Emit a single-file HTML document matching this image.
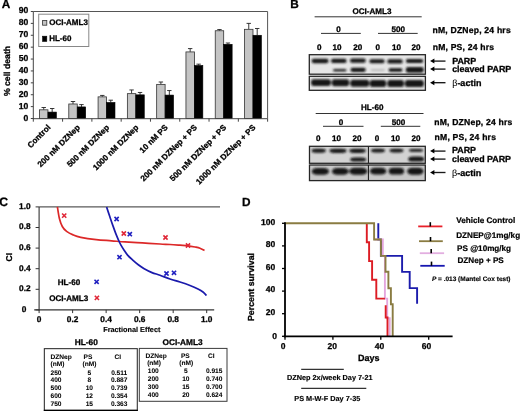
<!DOCTYPE html>
<html><head><meta charset="utf-8"><style>
html,body{margin:0;padding:0;background:#fff;overflow:hidden;}
svg{display:block;will-change:transform;}
text{font-family:"Liberation Sans", sans-serif;stroke:#000;text-rendering:geometricPrecision;}
</style></head><body>
<svg width="520" height="411" viewBox="0 0 520 411" font-family='"Liberation Sans", sans-serif'>
<defs><filter id="bl" x="-10%" y="-50%" width="120%" height="200%"><feGaussianBlur stdDeviation="0.8"/></filter></defs>
<rect width="520" height="411" fill="#fff"/>
<text x="1.80" y="7.90" font-size="11.8" text-anchor="start" font-weight="bold" fill="#000"  style="stroke-width:0.28px;">A</text>
<line x1="33.30" y1="11.50" x2="267.60" y2="11.50" stroke="#555" stroke-width="1" />
<line x1="267.60" y1="11.50" x2="267.60" y2="118.50" stroke="#555" stroke-width="1" />
<line x1="43.73" y1="107.50" x2="43.73" y2="109.82" stroke="#222" stroke-width="0.9" />
<line x1="41.52" y1="107.50" x2="45.93" y2="107.50" stroke="#222" stroke-width="0.9" />
<line x1="52.17" y1="108.51" x2="52.17" y2="112.08" stroke="#222" stroke-width="0.9" />
<line x1="49.97" y1="108.51" x2="54.38" y2="108.51" stroke="#222" stroke-width="0.9" />
<rect x="39.50" y="109.82" width="8.45" height="8.68" fill="#c4c4c4" stroke="#333" stroke-width="0.8" />
<rect x="47.95" y="112.08" width="8.45" height="6.42" fill="#000" stroke="#000" stroke-width="0.6" />
<line x1="73.01" y1="101.50" x2="73.01" y2="103.99" stroke="#222" stroke-width="0.9" />
<line x1="70.81" y1="101.50" x2="75.21" y2="101.50" stroke="#222" stroke-width="0.9" />
<line x1="81.46" y1="104.59" x2="81.46" y2="106.91" stroke="#222" stroke-width="0.9" />
<line x1="79.26" y1="104.59" x2="83.66" y2="104.59" stroke="#222" stroke-width="0.9" />
<rect x="68.79" y="103.99" width="8.45" height="14.51" fill="#c4c4c4" stroke="#333" stroke-width="0.8" />
<rect x="77.24" y="106.91" width="8.45" height="11.59" fill="#000" stroke="#000" stroke-width="0.6" />
<line x1="102.30" y1="95.43" x2="102.30" y2="96.86" stroke="#222" stroke-width="0.9" />
<line x1="100.10" y1="95.43" x2="104.50" y2="95.43" stroke="#222" stroke-width="0.9" />
<line x1="110.75" y1="100.19" x2="110.75" y2="102.45" stroke="#222" stroke-width="0.9" />
<line x1="108.55" y1="100.19" x2="112.95" y2="100.19" stroke="#222" stroke-width="0.9" />
<rect x="98.08" y="96.86" width="8.45" height="21.64" fill="#c4c4c4" stroke="#333" stroke-width="0.8" />
<rect x="106.53" y="102.45" width="8.45" height="16.05" fill="#000" stroke="#000" stroke-width="0.6" />
<line x1="131.59" y1="89.96" x2="131.59" y2="93.65" stroke="#222" stroke-width="0.9" />
<line x1="129.40" y1="89.96" x2="133.79" y2="89.96" stroke="#222" stroke-width="0.9" />
<line x1="140.04" y1="92.46" x2="140.04" y2="94.84" stroke="#222" stroke-width="0.9" />
<line x1="137.84" y1="92.46" x2="142.24" y2="92.46" stroke="#222" stroke-width="0.9" />
<rect x="127.37" y="93.65" width="8.45" height="24.85" fill="#c4c4c4" stroke="#333" stroke-width="0.8" />
<rect x="135.82" y="94.84" width="8.45" height="23.66" fill="#000" stroke="#000" stroke-width="0.6" />
<line x1="160.88" y1="82.00" x2="160.88" y2="84.38" stroke="#222" stroke-width="0.9" />
<line x1="158.68" y1="82.00" x2="163.08" y2="82.00" stroke="#222" stroke-width="0.9" />
<line x1="169.33" y1="90.56" x2="169.33" y2="95.08" stroke="#222" stroke-width="0.9" />
<line x1="167.13" y1="90.56" x2="171.53" y2="90.56" stroke="#222" stroke-width="0.9" />
<rect x="156.66" y="84.38" width="8.45" height="34.12" fill="#c4c4c4" stroke="#333" stroke-width="0.8" />
<rect x="165.11" y="95.08" width="8.45" height="23.42" fill="#000" stroke="#000" stroke-width="0.6" />
<line x1="190.17" y1="48.59" x2="190.17" y2="51.92" stroke="#222" stroke-width="0.9" />
<line x1="187.97" y1="48.59" x2="192.37" y2="48.59" stroke="#222" stroke-width="0.9" />
<line x1="198.62" y1="64.16" x2="198.62" y2="65.47" stroke="#222" stroke-width="0.9" />
<line x1="196.43" y1="64.16" x2="200.82" y2="64.16" stroke="#222" stroke-width="0.9" />
<rect x="185.95" y="51.92" width="8.45" height="66.58" fill="#c4c4c4" stroke="#333" stroke-width="0.8" />
<rect x="194.40" y="65.47" width="8.45" height="53.03" fill="#000" stroke="#000" stroke-width="0.6" />
<line x1="219.47" y1="29.56" x2="219.47" y2="30.75" stroke="#222" stroke-width="0.9" />
<line x1="217.27" y1="29.56" x2="221.66" y2="29.56" stroke="#222" stroke-width="0.9" />
<line x1="227.92" y1="43.00" x2="227.92" y2="44.31" stroke="#222" stroke-width="0.9" />
<line x1="225.72" y1="43.00" x2="230.12" y2="43.00" stroke="#222" stroke-width="0.9" />
<rect x="215.24" y="30.75" width="8.45" height="87.75" fill="#c4c4c4" stroke="#333" stroke-width="0.8" />
<rect x="223.69" y="44.31" width="8.45" height="74.19" fill="#000" stroke="#000" stroke-width="0.6" />
<line x1="248.75" y1="23.38" x2="248.75" y2="29.32" stroke="#222" stroke-width="0.9" />
<line x1="246.55" y1="23.38" x2="250.95" y2="23.38" stroke="#222" stroke-width="0.9" />
<line x1="257.20" y1="28.49" x2="257.20" y2="35.27" stroke="#222" stroke-width="0.9" />
<line x1="255.00" y1="28.49" x2="259.40" y2="28.49" stroke="#222" stroke-width="0.9" />
<rect x="244.53" y="29.32" width="8.45" height="89.18" fill="#c4c4c4" stroke="#333" stroke-width="0.8" />
<rect x="252.98" y="35.27" width="8.45" height="83.23" fill="#000" stroke="#000" stroke-width="0.6" />
<line x1="33.30" y1="11.50" x2="33.30" y2="119.00" stroke="#444" stroke-width="1" />
<line x1="32.80" y1="118.70" x2="267.60" y2="118.70" stroke="#444" stroke-width="1" />
<line x1="30.80" y1="118.50" x2="33.30" y2="118.50" stroke="#444" stroke-width="1" />
<text x="28.20" y="120.50" font-size="8.6" text-anchor="end" font-weight="bold" fill="#000"  style="stroke-width:0.28px;">0</text>
<line x1="30.80" y1="106.61" x2="33.30" y2="106.61" stroke="#444" stroke-width="1" />
<text x="28.20" y="108.61" font-size="8.6" text-anchor="end" font-weight="bold" fill="#000"  style="stroke-width:0.28px;">10</text>
<line x1="30.80" y1="94.72" x2="33.30" y2="94.72" stroke="#444" stroke-width="1" />
<text x="28.20" y="96.72" font-size="8.6" text-anchor="end" font-weight="bold" fill="#000"  style="stroke-width:0.28px;">20</text>
<line x1="30.80" y1="82.83" x2="33.30" y2="82.83" stroke="#444" stroke-width="1" />
<text x="28.20" y="84.83" font-size="8.6" text-anchor="end" font-weight="bold" fill="#000"  style="stroke-width:0.28px;">30</text>
<line x1="30.80" y1="70.94" x2="33.30" y2="70.94" stroke="#444" stroke-width="1" />
<text x="28.20" y="72.94" font-size="8.6" text-anchor="end" font-weight="bold" fill="#000"  style="stroke-width:0.28px;">40</text>
<line x1="30.80" y1="59.05" x2="33.30" y2="59.05" stroke="#444" stroke-width="1" />
<text x="28.20" y="61.05" font-size="8.6" text-anchor="end" font-weight="bold" fill="#000"  style="stroke-width:0.28px;">50</text>
<line x1="30.80" y1="47.16" x2="33.30" y2="47.16" stroke="#444" stroke-width="1" />
<text x="28.20" y="49.16" font-size="8.6" text-anchor="end" font-weight="bold" fill="#000"  style="stroke-width:0.28px;">60</text>
<line x1="30.80" y1="35.27" x2="33.30" y2="35.27" stroke="#444" stroke-width="1" />
<text x="28.20" y="37.27" font-size="8.6" text-anchor="end" font-weight="bold" fill="#000"  style="stroke-width:0.28px;">70</text>
<line x1="30.80" y1="23.38" x2="33.30" y2="23.38" stroke="#444" stroke-width="1" />
<text x="28.20" y="25.38" font-size="8.6" text-anchor="end" font-weight="bold" fill="#000"  style="stroke-width:0.28px;">80</text>
<line x1="30.80" y1="11.49" x2="33.30" y2="11.49" stroke="#444" stroke-width="1" />
<text x="28.20" y="13.49" font-size="8.6" text-anchor="end" font-weight="bold" fill="#000"  style="stroke-width:0.28px;">90</text>
<line x1="33.30" y1="118.50" x2="33.30" y2="121.70" stroke="#444" stroke-width="1" />
<line x1="62.59" y1="118.50" x2="62.59" y2="121.70" stroke="#444" stroke-width="1" />
<line x1="91.88" y1="118.50" x2="91.88" y2="121.70" stroke="#444" stroke-width="1" />
<line x1="121.17" y1="118.50" x2="121.17" y2="121.70" stroke="#444" stroke-width="1" />
<line x1="150.46" y1="118.50" x2="150.46" y2="121.70" stroke="#444" stroke-width="1" />
<line x1="179.75" y1="118.50" x2="179.75" y2="121.70" stroke="#444" stroke-width="1" />
<line x1="209.04" y1="118.50" x2="209.04" y2="121.70" stroke="#444" stroke-width="1" />
<line x1="238.33" y1="118.50" x2="238.33" y2="121.70" stroke="#444" stroke-width="1" />
<line x1="267.62" y1="118.50" x2="267.62" y2="121.70" stroke="#444" stroke-width="1" />
<text x="10.20" y="71.00" font-size="8.7" text-anchor="middle" font-weight="bold" fill="#000" transform="rotate(-90 10.2 71)" style="stroke-width:0.28px;">% cell death</text>
<rect x="38.70" y="14.20" width="50.10" height="32.30" fill="#fff" stroke="#888" stroke-width="1" />
<rect x="42.60" y="20.40" width="4.20" height="4.80" fill="#c4c4c4" stroke="#333" stroke-width="0.8" />
<rect x="42.60" y="36.20" width="4.20" height="5.20" fill="#000" stroke="#000" stroke-width="0.6" />
<text x="49.20" y="24.90" font-size="8.0" text-anchor="start" font-weight="bold" fill="#000"  style="stroke-width:0.28px;">OCI-AML3</text>
<text x="49.20" y="41.00" font-size="8.0" text-anchor="start" font-weight="bold" fill="#000"  style="stroke-width:0.28px;">HL-60</text>
<text x="51.14" y="128.00" font-size="8.15" text-anchor="end" font-weight="bold" fill="#000" transform="rotate(-45 51.14 128.00)" style="stroke-width:0.28px;">Control</text>
<text x="80.44" y="128.00" font-size="8.15" text-anchor="end" font-weight="bold" fill="#000" transform="rotate(-45 80.44 128.00)" style="stroke-width:0.28px;">200 nM DZNep</text>
<text x="109.72" y="128.00" font-size="8.15" text-anchor="end" font-weight="bold" fill="#000" transform="rotate(-45 109.72 128.00)" style="stroke-width:0.28px;">500 nM DZNep</text>
<text x="139.01" y="128.00" font-size="8.15" text-anchor="end" font-weight="bold" fill="#000" transform="rotate(-45 139.01 128.00)" style="stroke-width:0.28px;">1000 nM DZNep</text>
<text x="168.31" y="128.00" font-size="8.15" text-anchor="end" font-weight="bold" fill="#000" transform="rotate(-45 168.31 128.00)" style="stroke-width:0.28px;">10 nM PS</text>
<text x="197.59" y="128.00" font-size="8.15" text-anchor="end" font-weight="bold" fill="#000" transform="rotate(-45 197.59 128.00)" style="stroke-width:0.28px;">200 nM DZNep + PS</text>
<text x="226.88" y="128.00" font-size="8.15" text-anchor="end" font-weight="bold" fill="#000" transform="rotate(-45 226.88 128.00)" style="stroke-width:0.28px;">500 nM DZNep + PS</text>
<text x="256.17" y="128.00" font-size="8.15" text-anchor="end" font-weight="bold" fill="#000" transform="rotate(-45 256.17 128.00)" style="stroke-width:0.28px;">1000 nM DZNep + PS</text>
<text x="290.30" y="8.00" font-size="11.8" text-anchor="start" font-weight="bold" fill="#000"  style="stroke-width:0.28px;">B</text>
<text x="372.00" y="13.80" font-size="8.1" text-anchor="middle" font-weight="bold" fill="#000"  style="stroke-width:0.28px;">OCI-AML3</text>
<line x1="314.60" y1="16.80" x2="421.70" y2="16.80" stroke="#333" stroke-width="1" />
<text x="338.60" y="31.70" font-size="8.1" text-anchor="middle" font-weight="bold" fill="#000"  style="stroke-width:0.28px;">0</text>
<text x="398.20" y="31.70" font-size="8.1" text-anchor="middle" font-weight="bold" fill="#000"  style="stroke-width:0.28px;">500</text>
<line x1="321.00" y1="33.40" x2="360.80" y2="33.40" stroke="#333" stroke-width="1" />
<line x1="378.00" y1="33.40" x2="417.70" y2="33.40" stroke="#333" stroke-width="1" />
<text x="319.20" y="50.30" font-size="8.1" text-anchor="middle" font-weight="bold" fill="#000"  style="stroke-width:0.28px;">0</text>
<text x="337.00" y="50.30" font-size="8.1" text-anchor="middle" font-weight="bold" fill="#000"  style="stroke-width:0.28px;">10</text>
<text x="357.70" y="50.30" font-size="8.1" text-anchor="middle" font-weight="bold" fill="#000"  style="stroke-width:0.28px;">20</text>
<text x="377.70" y="50.30" font-size="8.1" text-anchor="middle" font-weight="bold" fill="#000"  style="stroke-width:0.28px;">0</text>
<text x="396.50" y="50.30" font-size="8.1" text-anchor="middle" font-weight="bold" fill="#000"  style="stroke-width:0.28px;">10</text>
<text x="416.00" y="50.30" font-size="8.1" text-anchor="middle" font-weight="bold" fill="#000"  style="stroke-width:0.28px;">20</text>
<text x="432.50" y="32.80" font-size="8.6" text-anchor="start" font-weight="bold" fill="#000"  style="stroke-width:0.28px;letter-spacing:0.2px">nM, DZNep, 24 hrs</text>
<text x="432.70" y="49.60" font-size="8.6" text-anchor="start" font-weight="bold" fill="#000"  style="stroke-width:0.28px;letter-spacing:0.2px">nM, PS, 24 hrs</text>
<rect x="309.30" y="54.70" width="116.10" height="19.50" fill="#e6e6e6" stroke="none" stroke-width="0" />
<g filter="url(#bl)">
<rect x="311.60" y="58.85" width="17.00" height="4.30" rx="2.21" ry="2.15" fill="#141414"/>
<rect x="331.00" y="58.85" width="15.60" height="4.10" rx="2.03" ry="2.05" fill="#141414"/>
<rect x="350.00" y="58.55" width="15.80" height="4.30" rx="2.05" ry="2.15" fill="#141414"/>
<rect x="369.40" y="59.30" width="15.20" height="4.00" rx="1.98" ry="2.00" fill="#141414"/>
<rect x="387.30" y="59.20" width="15.40" height="4.40" rx="2.00" ry="2.20" fill="#141414"/>
<rect x="405.80" y="58.95" width="17.50" height="4.10" rx="2.27" ry="2.05" fill="#141414"/>
<rect x="333.00" y="68.90" width="13.40" height="2.60" rx="1.74" ry="1.30" fill="#222"/>
<rect x="350.50" y="67.70" width="15.30" height="4.20" rx="1.99" ry="2.10" fill="#141414"/>
<rect x="370.50" y="69.00" width="14.50" height="2.20" rx="1.89" ry="1.10" fill="#bdbdbd"/>
<rect x="388.50" y="68.20" width="14.00" height="3.60" rx="1.82" ry="1.80" fill="#141414"/>
<rect x="405.80" y="66.90" width="18.00" height="5.80" rx="2.34" ry="2.90" fill="#141414"/>
</g>
<rect x="309.30" y="54.70" width="116.10" height="19.50" fill="none" stroke="#262626" stroke-width="1.3" />
<rect x="309.30" y="76.30" width="116.10" height="14.00" fill="#e6e6e6" stroke="none" stroke-width="0" />
<g filter="url(#bl)">
<rect x="311.00" y="79.20" width="20.00" height="6.80" rx="2.60" ry="3.40" fill="#141414"/>
<rect x="331.80" y="79.35" width="17.40" height="6.90" rx="2.26" ry="3.45" fill="#141414"/>
<rect x="350.20" y="79.80" width="19.10" height="7.00" rx="2.48" ry="3.50" fill="#141414"/>
<rect x="369.80" y="80.00" width="16.40" height="7.00" rx="2.13" ry="3.50" fill="#141414"/>
<rect x="387.30" y="79.95" width="16.70" height="7.10" rx="2.17" ry="3.55" fill="#141414"/>
<rect x="404.80" y="79.90" width="19.10" height="7.20" rx="2.48" ry="3.60" fill="#141414"/>
</g>
<rect x="309.30" y="76.30" width="116.10" height="14.00" fill="none" stroke="#262626" stroke-width="1.3" />
<line x1="433.10" y1="61.10" x2="445.50" y2="61.10" stroke="#1a1a1a" stroke-width="1.35" />
<path d="M430.10,61.10 L434.40,58.60 L434.40,63.60 Z" fill="#000"/>
<line x1="433.10" y1="69.10" x2="445.50" y2="69.10" stroke="#1a1a1a" stroke-width="1.35" />
<path d="M430.10,69.10 L434.40,66.60 L434.40,71.60 Z" fill="#000"/>
<line x1="433.10" y1="82.70" x2="445.50" y2="82.70" stroke="#1a1a1a" stroke-width="1.35" />
<path d="M430.10,82.70 L434.40,80.20 L434.40,85.20 Z" fill="#000"/>
<text x="452.20" y="64.00" font-size="8.9" text-anchor="start" font-weight="bold" fill="#000"  style="stroke-width:0.28px;">PARP</text>
<text x="452.20" y="71.50" font-size="8.9" text-anchor="start" font-weight="bold" fill="#000"  style="stroke-width:0.28px;">cleaved PARP</text>
<text x="452.20" y="85.90" font-size="9.0" text-anchor="start" font-weight="bold" fill="#000"  style="stroke-width:0.28px;"><tspan font-weight="normal" style="stroke-width:0.05px">&#946;</tspan>-actin</text>
<text x="372.20" y="110.00" font-size="8.1" text-anchor="middle" font-weight="bold" fill="#000"  style="stroke-width:0.28px;">HL-60</text>
<line x1="315.70" y1="113.50" x2="423.50" y2="113.50" stroke="#333" stroke-width="1" />
<text x="341.00" y="124.50" font-size="8.1" text-anchor="middle" font-weight="bold" fill="#000"  style="stroke-width:0.28px;">0</text>
<text x="398.50" y="124.50" font-size="8.1" text-anchor="middle" font-weight="bold" fill="#000"  style="stroke-width:0.28px;">500</text>
<line x1="323.00" y1="126.30" x2="363.50" y2="126.30" stroke="#333" stroke-width="1" />
<line x1="380.80" y1="126.30" x2="420.30" y2="126.30" stroke="#333" stroke-width="1" />
<text x="318.20" y="140.70" font-size="8.1" text-anchor="middle" font-weight="bold" fill="#000"  style="stroke-width:0.28px;">0</text>
<text x="336.40" y="140.70" font-size="8.1" text-anchor="middle" font-weight="bold" fill="#000"  style="stroke-width:0.28px;">10</text>
<text x="356.90" y="140.70" font-size="8.1" text-anchor="middle" font-weight="bold" fill="#000"  style="stroke-width:0.28px;">20</text>
<text x="377.10" y="140.70" font-size="8.1" text-anchor="middle" font-weight="bold" fill="#000"  style="stroke-width:0.28px;">0</text>
<text x="395.50" y="140.70" font-size="8.1" text-anchor="middle" font-weight="bold" fill="#000"  style="stroke-width:0.28px;">10</text>
<text x="416.00" y="140.70" font-size="8.1" text-anchor="middle" font-weight="bold" fill="#000"  style="stroke-width:0.28px;">20</text>
<text x="434.20" y="125.40" font-size="8.6" text-anchor="start" font-weight="bold" fill="#000"  style="stroke-width:0.28px;letter-spacing:0.2px">nM, DZNep, 24 hrs</text>
<text x="434.60" y="140.40" font-size="8.6" text-anchor="start" font-weight="bold" fill="#000"  style="stroke-width:0.28px;letter-spacing:0.2px">nM, PS, 24 hrs</text>
<rect x="309.50" y="146.30" width="115.80" height="17.00" fill="#d2d2d2" stroke="none" stroke-width="0" />
<g filter="url(#bl)">
<rect x="311.60" y="148.85" width="14.20" height="3.90" rx="4.26" ry="1.95" fill="#141414"/>
<rect x="329.40" y="148.70" width="17.20" height="4.20" rx="5.16" ry="2.10" fill="#141414"/>
<rect x="349.30" y="148.70" width="16.50" height="4.20" rx="4.95" ry="2.10" fill="#141414"/>
<rect x="371.00" y="148.70" width="14.00" height="3.80" rx="4.20" ry="1.90" fill="#141414"/>
<rect x="389.60" y="148.70" width="13.90" height="3.80" rx="4.17" ry="1.90" fill="#141414"/>
<rect x="409.00" y="149.05" width="14.00" height="2.70" rx="4.20" ry="1.35" fill="#111"/>
<rect x="350.20" y="157.45" width="16.00" height="4.10" rx="4.80" ry="2.05" fill="#141414"/>
<rect x="408.20" y="156.40" width="16.00" height="5.20" rx="4.80" ry="2.60" fill="#141414"/>
</g>
<line x1="368.40" y1="146.30" x2="368.40" y2="163.30" stroke="#111" stroke-width="1" />
<rect x="309.50" y="146.30" width="115.80" height="17.00" fill="none" stroke="#262626" stroke-width="1.3" />
<rect x="309.50" y="165.00" width="115.80" height="15.60" fill="#c8c8c8" stroke="none" stroke-width="0" />
<g filter="url(#bl)">
<rect x="311.80" y="168.05" width="17.20" height="6.70" rx="5.16" ry="3.35" fill="#141414"/>
<rect x="332.00" y="167.95" width="16.60" height="6.90" rx="4.98" ry="3.45" fill="#141414"/>
<rect x="349.20" y="167.70" width="18.00" height="7.00" rx="5.40" ry="3.50" fill="#141414"/>
<rect x="370.00" y="167.80" width="16.30" height="6.80" rx="4.89" ry="3.40" fill="#141414"/>
<rect x="388.70" y="167.80" width="15.40" height="6.80" rx="4.62" ry="3.40" fill="#141414"/>
<rect x="407.20" y="167.80" width="16.30" height="7.00" rx="4.89" ry="3.50" fill="#141414"/>
</g>
<line x1="368.40" y1="165.00" x2="368.40" y2="180.60" stroke="#111" stroke-width="1" />
<rect x="309.50" y="165.00" width="115.80" height="15.60" fill="none" stroke="#262626" stroke-width="1.3" />
<line x1="433.10" y1="151.10" x2="445.50" y2="151.10" stroke="#1a1a1a" stroke-width="1.35" />
<path d="M430.10,151.10 L434.40,148.60 L434.40,153.60 Z" fill="#000"/>
<line x1="433.10" y1="159.10" x2="445.50" y2="159.10" stroke="#1a1a1a" stroke-width="1.35" />
<path d="M430.10,159.10 L434.40,156.60 L434.40,161.60 Z" fill="#000"/>
<line x1="433.10" y1="172.50" x2="445.50" y2="172.50" stroke="#1a1a1a" stroke-width="1.35" />
<path d="M430.10,172.50 L434.40,170.00 L434.40,175.00 Z" fill="#000"/>
<text x="452.00" y="152.60" font-size="8.9" text-anchor="start" font-weight="bold" fill="#000"  style="stroke-width:0.28px;">PARP</text>
<text x="452.00" y="161.80" font-size="8.9" text-anchor="start" font-weight="bold" fill="#000"  style="stroke-width:0.28px;">cleaved PARP</text>
<text x="452.00" y="175.50" font-size="9.0" text-anchor="start" font-weight="bold" fill="#000"  style="stroke-width:0.28px;"><tspan font-weight="normal" style="stroke-width:0.05px">&#946;</tspan>-actin</text>
<text x="-0.80" y="205.80" font-size="12.2" text-anchor="start" font-weight="bold" fill="#000"  style="stroke-width:0.28px;">C</text>
<line x1="39.10" y1="206.90" x2="220.00" y2="206.90" stroke="#5a5a5a" stroke-width="1.1" />
<path d="M57.40,206.90 C57.73,208.83 58.58,215.23 59.40,218.50 C60.22,221.77 61.10,224.35 62.30,226.50 C63.50,228.65 64.80,230.00 66.60,231.40 C68.40,232.80 70.73,233.92 73.10,234.90 C75.47,235.88 76.95,236.52 80.80,237.30 C84.65,238.08 91.08,239.02 96.20,239.60 C101.32,240.18 106.70,240.42 111.50,240.80 C116.30,241.18 119.87,241.55 125.00,241.90 C130.13,242.25 136.47,242.55 142.30,242.90 C148.13,243.25 155.38,243.73 160.00,244.00 C164.62,244.27 166.67,244.30 170.00,244.50 C173.33,244.70 177.00,244.98 180.00,245.20 C183.00,245.42 185.50,245.50 188.00,245.80 C190.50,246.10 193.00,246.60 195.00,247.00 C197.00,247.40 198.42,247.62 200.00,248.20 C201.58,248.78 203.75,250.12 204.50,250.50" fill="none" stroke="#dc2828" stroke-width="1.7"/>
<path d="M106.60,207.10 C107.12,208.63 108.67,213.25 109.70,216.30 C110.73,219.35 111.78,222.52 112.80,225.40 C113.82,228.28 114.83,231.12 115.80,233.60 C116.77,236.08 117.77,238.42 118.60,240.30 C119.43,242.18 119.93,243.33 120.80,244.90 C121.67,246.47 122.67,248.00 123.80,249.70 C124.93,251.40 126.15,253.40 127.60,255.10 C129.05,256.80 130.72,258.28 132.50,259.90 C134.28,261.52 136.35,263.33 138.30,264.80 C140.25,266.27 141.92,267.40 144.20,268.70 C146.48,270.00 149.37,271.52 152.00,272.60 C154.63,273.68 157.00,274.13 160.00,275.20 C163.00,276.27 166.67,277.87 170.00,279.00 C173.33,280.13 176.67,280.92 180.00,282.00 C183.33,283.08 187.00,284.33 190.00,285.50 C193.00,286.67 195.83,287.92 198.00,289.00 C200.17,290.08 201.58,290.92 203.00,292.00 C204.42,293.08 205.92,294.92 206.50,295.50" fill="none" stroke="#1a1aac" stroke-width="1.7"/>
<path d="M62.10,213.50 L66.30,217.70 M66.30,213.50 L62.10,217.70" stroke="#e02838" stroke-width="1.6" fill="none"/>
<path d="M121.70,231.40 L125.90,235.60 M125.90,231.40 L121.70,235.60" stroke="#e02838" stroke-width="1.6" fill="none"/>
<path d="M163.40,235.40 L167.60,239.60 M167.60,235.40 L163.40,239.60" stroke="#e02838" stroke-width="1.6" fill="none"/>
<path d="M185.90,243.40 L190.10,247.60 M190.10,243.40 L185.90,247.60" stroke="#e02838" stroke-width="1.6" fill="none"/>
<path d="M114.50,216.90 L118.70,221.10 M118.70,216.90 L114.50,221.10" stroke="#2020c0" stroke-width="1.6" fill="none"/>
<path d="M127.70,232.10 L131.90,236.30 M131.90,232.10 L127.70,236.30" stroke="#2020c0" stroke-width="1.6" fill="none"/>
<path d="M117.40,255.10 L121.60,259.30 M121.60,255.10 L117.40,259.30" stroke="#2020c0" stroke-width="1.6" fill="none"/>
<path d="M164.40,271.40 L168.60,275.60 M168.60,271.40 L164.40,275.60" stroke="#2020c0" stroke-width="1.6" fill="none"/>
<path d="M171.90,270.70 L176.10,274.90 M176.10,270.70 L171.90,274.90" stroke="#2020c0" stroke-width="1.6" fill="none"/>
<line x1="39.10" y1="206.90" x2="39.10" y2="310.40" stroke="#333" stroke-width="1.1" />
<line x1="34.20" y1="309.90" x2="214.20" y2="309.90" stroke="#333" stroke-width="1.1" />
<line x1="35.60" y1="309.90" x2="39.10" y2="309.90" stroke="#333" stroke-width="1" />
<text x="24.00" y="311.90" font-size="8.3" text-anchor="middle" font-weight="bold" fill="#000"  style="stroke-width:0.28px;">0</text>
<line x1="39.10" y1="309.90" x2="39.10" y2="313.10" stroke="#333" stroke-width="1" />
<text x="39.10" y="322.30" font-size="8.3" text-anchor="middle" font-weight="bold" fill="#000"  style="stroke-width:0.28px;">0</text>
<line x1="35.60" y1="289.30" x2="39.10" y2="289.30" stroke="#333" stroke-width="1" />
<text x="30.60" y="291.20" font-size="8.3" text-anchor="end" font-weight="bold" fill="#000"  style="stroke-width:0.28px;">0.2</text>
<line x1="72.62" y1="309.90" x2="72.62" y2="313.10" stroke="#333" stroke-width="1" />
<text x="72.62" y="322.30" font-size="8.3" text-anchor="middle" font-weight="bold" fill="#000"  style="stroke-width:0.28px;">0.2</text>
<line x1="35.60" y1="268.70" x2="39.10" y2="268.70" stroke="#333" stroke-width="1" />
<text x="30.60" y="270.60" font-size="8.3" text-anchor="end" font-weight="bold" fill="#000"  style="stroke-width:0.28px;">0.4</text>
<line x1="106.14" y1="309.90" x2="106.14" y2="313.10" stroke="#333" stroke-width="1" />
<text x="106.14" y="322.30" font-size="8.3" text-anchor="middle" font-weight="bold" fill="#000"  style="stroke-width:0.28px;">0.4</text>
<line x1="35.60" y1="248.10" x2="39.10" y2="248.10" stroke="#333" stroke-width="1" />
<text x="30.60" y="250.00" font-size="8.3" text-anchor="end" font-weight="bold" fill="#000"  style="stroke-width:0.28px;">0.6</text>
<line x1="139.66" y1="309.90" x2="139.66" y2="313.10" stroke="#333" stroke-width="1" />
<text x="139.66" y="322.30" font-size="8.3" text-anchor="middle" font-weight="bold" fill="#000"  style="stroke-width:0.28px;">0.6</text>
<line x1="35.60" y1="227.50" x2="39.10" y2="227.50" stroke="#333" stroke-width="1" />
<text x="30.60" y="229.40" font-size="8.3" text-anchor="end" font-weight="bold" fill="#000"  style="stroke-width:0.28px;">0.8</text>
<line x1="173.18" y1="309.90" x2="173.18" y2="313.10" stroke="#333" stroke-width="1" />
<text x="173.18" y="322.30" font-size="8.3" text-anchor="middle" font-weight="bold" fill="#000"  style="stroke-width:0.28px;">0.8</text>
<line x1="35.60" y1="206.90" x2="39.10" y2="206.90" stroke="#333" stroke-width="1" />
<text x="30.60" y="208.80" font-size="8.3" text-anchor="end" font-weight="bold" fill="#000"  style="stroke-width:0.28px;">1.0</text>
<line x1="206.70" y1="309.90" x2="206.70" y2="313.10" stroke="#333" stroke-width="1" />
<text x="206.70" y="322.30" font-size="8.3" text-anchor="middle" font-weight="bold" fill="#000"  style="stroke-width:0.28px;">1.0</text>
<text x="131.80" y="332.30" font-size="7.3" text-anchor="middle" font-weight="bold" fill="#000"  style="stroke-width:0.15px;">Fractional Effect</text>
<text x="12.30" y="257.20" font-size="8.5" text-anchor="middle" font-weight="bold" fill="#000" transform="rotate(-90 12.3 257.2)" style="stroke-width:0.28px;">CI</text>
<text x="69.00" y="284.60" font-size="8.1" text-anchor="middle" font-weight="bold" fill="#000"  style="stroke-width:0.28px;">HL-60</text>
<text x="68.70" y="301.10" font-size="8.1" text-anchor="middle" font-weight="bold" fill="#000"  style="stroke-width:0.28px;">OCI-AML3</text>
<path d="M94.50,279.70 L98.70,283.90 M98.70,279.70 L94.50,283.90" stroke="#2020c0" stroke-width="1.6" fill="none"/>
<path d="M94.80,295.80 L99.00,300.00 M99.00,295.80 L94.80,300.00" stroke="#e02838" stroke-width="1.6" fill="none"/>
<text x="86.30" y="344.80" font-size="8.3" text-anchor="middle" font-weight="bold" fill="#000"  style="stroke-width:0.28px;">HL-60</text>
<text x="182.60" y="344.80" font-size="8.3" text-anchor="middle" font-weight="bold" fill="#000"  style="stroke-width:0.28px;">OCI-AML3</text>
<rect x="44.35" y="348.65" width="92.95" height="61.70" fill="none" stroke="#333" stroke-width="1.1" />
<line x1="43.80" y1="410.40" x2="137.85" y2="410.40" stroke="#000" stroke-width="1.3" />
<rect x="139.30" y="348.40" width="87.70" height="52.90" fill="none" stroke="#3a3a3a" stroke-width="1.0" />
<text x="50.50" y="359.20" font-size="6.6" text-anchor="start" font-weight="bold" fill="#000"  style="stroke-width:0.05px;">DZNep</text>
<text x="50.50" y="366.20" font-size="6.6" text-anchor="start" font-weight="bold" fill="#000"  style="stroke-width:0.05px;">(nM)</text>
<text x="88.00" y="359.00" font-size="6.6" text-anchor="middle" font-weight="bold" fill="#000"  style="stroke-width:0.05px;">PS</text>
<text x="89.40" y="366.10" font-size="6.6" text-anchor="middle" font-weight="bold" fill="#000"  style="stroke-width:0.05px;">(nM)</text>
<text x="117.70" y="359.00" font-size="6.6" text-anchor="middle" font-weight="bold" fill="#000"  style="stroke-width:0.05px;">CI</text>
<text x="50.50" y="374.50" font-size="6.6" text-anchor="start" font-weight="bold" fill="#000"  style="stroke-width:0.05px;">250</text>
<text x="89.30" y="374.50" font-size="6.6" text-anchor="middle" font-weight="bold" fill="#000"  style="stroke-width:0.05px;">5</text>
<text x="119.20" y="374.50" font-size="6.6" text-anchor="middle" font-weight="bold" fill="#000"  style="stroke-width:0.05px;">0.511</text>
<text x="50.50" y="382.25" font-size="6.6" text-anchor="start" font-weight="bold" fill="#000"  style="stroke-width:0.05px;">400</text>
<text x="89.30" y="382.25" font-size="6.6" text-anchor="middle" font-weight="bold" fill="#000"  style="stroke-width:0.05px;">8</text>
<text x="119.20" y="382.25" font-size="6.6" text-anchor="middle" font-weight="bold" fill="#000"  style="stroke-width:0.05px;">0.887</text>
<text x="50.50" y="390.00" font-size="6.6" text-anchor="start" font-weight="bold" fill="#000"  style="stroke-width:0.05px;">500</text>
<text x="89.30" y="390.00" font-size="6.6" text-anchor="middle" font-weight="bold" fill="#000"  style="stroke-width:0.05px;">10</text>
<text x="119.20" y="390.00" font-size="6.6" text-anchor="middle" font-weight="bold" fill="#000"  style="stroke-width:0.05px;">0.739</text>
<text x="50.50" y="397.75" font-size="6.6" text-anchor="start" font-weight="bold" fill="#000"  style="stroke-width:0.05px;">600</text>
<text x="89.30" y="397.75" font-size="6.6" text-anchor="middle" font-weight="bold" fill="#000"  style="stroke-width:0.05px;">12</text>
<text x="119.20" y="397.75" font-size="6.6" text-anchor="middle" font-weight="bold" fill="#000"  style="stroke-width:0.05px;">0.354</text>
<text x="50.50" y="405.50" font-size="6.6" text-anchor="start" font-weight="bold" fill="#000"  style="stroke-width:0.05px;">750</text>
<text x="89.30" y="405.50" font-size="6.6" text-anchor="middle" font-weight="bold" fill="#000"  style="stroke-width:0.05px;">15</text>
<text x="119.20" y="405.50" font-size="6.6" text-anchor="middle" font-weight="bold" fill="#000"  style="stroke-width:0.05px;">0.363</text>
<text x="156.20" y="358.30" font-size="6.6" text-anchor="middle" font-weight="bold" fill="#000"  style="stroke-width:0.05px;">DZNep</text>
<text x="154.10" y="365.20" font-size="6.6" text-anchor="middle" font-weight="bold" fill="#000"  style="stroke-width:0.05px;">(nM)</text>
<text x="185.30" y="358.30" font-size="6.6" text-anchor="middle" font-weight="bold" fill="#000"  style="stroke-width:0.05px;">PS</text>
<text x="186.20" y="365.20" font-size="6.6" text-anchor="middle" font-weight="bold" fill="#000"  style="stroke-width:0.05px;">(nM)</text>
<text x="211.40" y="358.30" font-size="6.6" text-anchor="middle" font-weight="bold" fill="#000"  style="stroke-width:0.05px;">CI</text>
<text x="153.30" y="372.50" font-size="6.6" text-anchor="middle" font-weight="bold" fill="#000"  style="stroke-width:0.05px;">100</text>
<text x="185.80" y="372.50" font-size="6.6" text-anchor="middle" font-weight="bold" fill="#000"  style="stroke-width:0.05px;">5</text>
<text x="214.20" y="372.50" font-size="6.6" text-anchor="middle" font-weight="bold" fill="#000"  style="stroke-width:0.05px;">0.915</text>
<text x="153.30" y="380.75" font-size="6.6" text-anchor="middle" font-weight="bold" fill="#000"  style="stroke-width:0.05px;">200</text>
<text x="185.80" y="380.75" font-size="6.6" text-anchor="middle" font-weight="bold" fill="#000"  style="stroke-width:0.05px;">10</text>
<text x="214.20" y="380.75" font-size="6.6" text-anchor="middle" font-weight="bold" fill="#000"  style="stroke-width:0.05px;">0.740</text>
<text x="153.30" y="389.00" font-size="6.6" text-anchor="middle" font-weight="bold" fill="#000"  style="stroke-width:0.05px;">300</text>
<text x="185.80" y="389.00" font-size="6.6" text-anchor="middle" font-weight="bold" fill="#000"  style="stroke-width:0.05px;">15</text>
<text x="214.20" y="389.00" font-size="6.6" text-anchor="middle" font-weight="bold" fill="#000"  style="stroke-width:0.05px;">0.700</text>
<text x="153.30" y="397.25" font-size="6.6" text-anchor="middle" font-weight="bold" fill="#000"  style="stroke-width:0.05px;">400</text>
<text x="185.80" y="397.25" font-size="6.6" text-anchor="middle" font-weight="bold" fill="#000"  style="stroke-width:0.05px;">20</text>
<text x="214.20" y="397.25" font-size="6.6" text-anchor="middle" font-weight="bold" fill="#000"  style="stroke-width:0.05px;">0.624</text>
<text x="242.10" y="206.40" font-size="11.8" text-anchor="start" font-weight="bold" fill="#000"  style="stroke-width:0.28px;">D</text>
<g fill="none" stroke-width="1.9" stroke-linejoin="miter" transform="translate(0.3 0.3)">
<path d="M378,223 V239.2 H380.6 V255.6 H401.8 V271.6 H409.4 V287.8 H416.8 V303.5" stroke="#1c1cac"/>
<path d="M374,239.2 H382.5 V255.6 H384.6 V298.3 H386.9 V318 H389.4 V336" stroke="#e4a6de"/>
<path d="M366.5,223 V241.9 H368.8 V260.8 H371.8 V279.5 H376 V298.3 H384.6 M385.4,305 V317.2 H387.2 V336" stroke="#dc1c24"/>
<path d="M285,223 H373.8 V239.2 H380.6 V255.6 H385.2 V271.4 H388.1 V287.9 H390.6 V304 H392.4 V336" stroke="#8a7c42"/>
</g>
<line x1="285.00" y1="222.20" x2="285.00" y2="337.20" stroke="#000" stroke-width="1.8" />
<line x1="283.80" y1="336.30" x2="452.60" y2="336.30" stroke="#000" stroke-width="1.8" />
<line x1="282.00" y1="336.30" x2="285.00" y2="336.30" stroke="#000" stroke-width="1.3" />
<text x="277.00" y="339.30" font-size="8.5" text-anchor="end" font-weight="bold" fill="#000"  style="stroke-width:0.28px;">0</text>
<line x1="282.00" y1="313.70" x2="285.00" y2="313.70" stroke="#000" stroke-width="1.3" />
<text x="275.30" y="314.90" font-size="8.5" text-anchor="end" font-weight="bold" fill="#000"  style="stroke-width:0.28px;">20</text>
<line x1="282.00" y1="291.10" x2="285.00" y2="291.10" stroke="#000" stroke-width="1.3" />
<text x="275.30" y="292.30" font-size="8.5" text-anchor="end" font-weight="bold" fill="#000"  style="stroke-width:0.28px;">40</text>
<line x1="282.00" y1="268.50" x2="285.00" y2="268.50" stroke="#000" stroke-width="1.3" />
<text x="275.30" y="269.70" font-size="8.5" text-anchor="end" font-weight="bold" fill="#000"  style="stroke-width:0.28px;">60</text>
<line x1="282.00" y1="245.90" x2="285.00" y2="245.90" stroke="#000" stroke-width="1.3" />
<text x="275.30" y="247.10" font-size="8.5" text-anchor="end" font-weight="bold" fill="#000"  style="stroke-width:0.28px;">80</text>
<line x1="282.00" y1="223.30" x2="285.00" y2="223.30" stroke="#000" stroke-width="1.3" />
<text x="275.30" y="224.50" font-size="8.5" text-anchor="end" font-weight="bold" fill="#000"  style="stroke-width:0.28px;">100</text>
<line x1="285.00" y1="336.30" x2="285.00" y2="339.80" stroke="#000" stroke-width="1.3" />
<text x="283.00" y="349.00" font-size="8.5" text-anchor="middle" font-weight="bold" fill="#000"  style="stroke-width:0.28px;">0</text>
<line x1="332.90" y1="336.30" x2="332.90" y2="339.80" stroke="#000" stroke-width="1.3" />
<text x="332.20" y="349.00" font-size="8.5" text-anchor="middle" font-weight="bold" fill="#000"  style="stroke-width:0.28px;">20</text>
<line x1="380.80" y1="336.30" x2="380.80" y2="339.80" stroke="#000" stroke-width="1.3" />
<text x="379.60" y="349.00" font-size="8.5" text-anchor="middle" font-weight="bold" fill="#000"  style="stroke-width:0.28px;">40</text>
<line x1="428.70" y1="336.30" x2="428.70" y2="339.80" stroke="#000" stroke-width="1.3" />
<text x="426.60" y="349.00" font-size="8.5" text-anchor="middle" font-weight="bold" fill="#000"  style="stroke-width:0.28px;">60</text>
<text x="254.00" y="287.00" font-size="8.8" text-anchor="middle" font-weight="bold" fill="#000" transform="rotate(-90 254.0 287.0)" style="stroke-width:0.28px;">Percent survival</text>
<text x="368.80" y="361.30" font-size="9.0" text-anchor="middle" font-weight="bold" fill="#000"  style="stroke-width:0.28px;">Days</text>
<line x1="301.20" y1="369.30" x2="343.80" y2="369.30" stroke="#333" stroke-width="1.3" />
<text x="329.80" y="380.30" font-size="7.3" text-anchor="middle" font-weight="bold" fill="#000"  style="stroke-width:0.15px;">DZNep 2x/week Day 7-21</text>
<line x1="301.20" y1="388.30" x2="366.30" y2="388.30" stroke="#333" stroke-width="1.3" />
<text x="327.30" y="400.70" font-size="7.3" text-anchor="middle" font-weight="bold" fill="#000"  style="stroke-width:0.15px;">PS M-W-F Day 7-35</text>
<line x1="418.20" y1="226.40" x2="442.40" y2="226.40" stroke="#e8202a" stroke-width="1.8" />
<line x1="430.30" y1="222.20" x2="430.30" y2="226.40" stroke="#000" stroke-width="1.6" />
<line x1="419.00" y1="241.20" x2="442.80" y2="241.20" stroke="#8a7c42" stroke-width="1.8" />
<line x1="430.50" y1="237.00" x2="430.50" y2="241.20" stroke="#000" stroke-width="1.6" />
<line x1="419.80" y1="253.20" x2="444.10" y2="253.20" stroke="#e2aee0" stroke-width="1.8" />
<line x1="431.20" y1="249.00" x2="431.20" y2="253.20" stroke="#000" stroke-width="1.6" />
<line x1="420.30" y1="265.80" x2="444.70" y2="265.80" stroke="#1616b0" stroke-width="1.8" />
<line x1="431.50" y1="261.60" x2="431.50" y2="265.80" stroke="#000" stroke-width="1.6" />
<text x="456.20" y="223.30" font-size="8.15" text-anchor="start" font-weight="bold" fill="#000"  style="stroke-width:0.2px;">Vehicle Control</text>
<text x="456.20" y="238.30" font-size="8.15" text-anchor="start" font-weight="bold" fill="#000"  style="stroke-width:0.2px;">DZNEP@1mg/kg</text>
<text x="457.10" y="250.70" font-size="8.15" text-anchor="start" font-weight="bold" fill="#000"  style="stroke-width:0.2px;">PS @10mg/kg</text>
<text x="457.50" y="262.90" font-size="8.15" text-anchor="start" font-weight="bold" fill="#000"  style="stroke-width:0.2px;">DZNep + PS</text>
<text x="431.9" y="280.5" font-size="6.5" font-weight="bold" style="stroke-width:0.15px"><tspan font-style="italic">P</tspan> = .013 (Mantel Cox test)</text>
</svg>
</body></html>
